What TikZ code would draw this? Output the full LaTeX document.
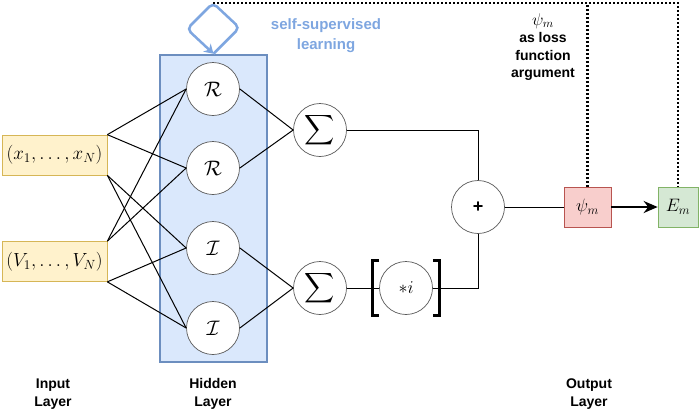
\RequirePackage{fix-cm}
\documentclass[tikz,border=0pt]{standalone}
\usepackage{amsmath,amssymb}
\usepackage{graphicx}
\usepackage{fontspec}
\setsansfont{Liberation Sans}
\usepackage{tikz}
\usetikzlibrary{arrows.meta,positioning,calc}
\definecolor{hiddenfill}{HTML}{DAE8FC}
\definecolor{hiddenedge}{HTML}{6C8EBF}
\definecolor{loopblue}{HTML}{7EA6E0}
\definecolor{inputfill}{HTML}{FFF2CC}
\definecolor{inputedge}{HTML}{D6B656}
\definecolor{psifill}{HTML}{F8CECC}
\definecolor{psiedge}{HTML}{B85450}
\definecolor{energyfill}{HTML}{D5E8D4}
\definecolor{energyedge}{HTML}{82B366}
\newcommand{\bigsum}{\resizebox{!}{22pt}{$\displaystyle\sum$}}
\tikzset{
  net-hidden/.style={draw=hiddenedge, fill=hiddenfill, line width=2.5pt, inner sep=0pt},
  net-input/.style={draw=inputedge, fill=inputfill, line width=0.7pt, inner sep=0pt,
    minimum width=105pt, minimum height=40pt, font=\fontsize{19}{21}\selectfont},
  net-neuron/.style={circle, draw=black!65, fill=white, line width=0.7pt, inner sep=0pt,
    minimum size=53pt, font=\fontsize{21}{23}\selectfont},
  net-psi/.style={draw=psiedge, fill=psifill, line width=0.7pt, inner sep=0pt,
    minimum width=47pt, minimum height=40pt, font=\fontsize{18}{20}\selectfont},
  net-energy/.style={draw=energyedge, fill=energyfill, line width=0.7pt, inner sep=0pt,
    minimum width=40pt, minimum height=40pt, font=\fontsize{18}{20}\selectfont},
  net-edge/.style={draw=black, line width=1pt},
  net-bracket/.style={draw=black, line width=3pt},
  net-arrow/.style={draw=black, line width=2pt, -{Stealth[length=14pt, width=12pt]}},
  net-dotted/.style={draw=black, line width=2.5pt, dash pattern=on 2pt off 2pt},
  net-loop/.style={draw=loopblue, line width=2.5pt, rounded corners=5pt,
    -{Stealth[length=9pt, width=11pt]}},
  net-note/.style={align=center, inner sep=0pt, font=\sffamily\bfseries\fontsize{14}{17.5}\selectfont}
}

\begin{document}
\begin{tikzpicture}[x=1pt, y=-1pt, >=Latex]
  \useasboundingbox (0,0) rectangle (700,413);
  % hidden layer and self-supervised loop
  \node[net-hidden, minimum width=107pt, minimum height=307pt] (hidden) at (213.5,208.5) {};
  \coordinate (loop-top) at (213,3);
  \draw[net-loop] (hidden.north) -- ++(26,-26) -- (loop-top) -- ++(-26,26) -- (hidden.north);

  % inputs
  \node[net-input] (xin) at (54.5,155) {$(x_1,\ldots,x_N)$};
  \node[net-input] (vin) at (54.5,261.5) {$(V_1,\ldots,V_N)$};

  % hidden neurons
  \node[net-neuron] (re1) at (213,89) {$\mathcal{R}$};
  \node[net-neuron] (re2) at (213,168) {$\mathcal{R}$};
  \node[net-neuron] (im1) at (213,248) {$\mathcal{I}$};
  \node[net-neuron] (im2) at (213,328) {$\mathcal{I}$};
  \foreach \src in {xin,vin} {
    \foreach \dst in {re1,re2} \draw[net-edge] (\src.north east) -- (\dst.west);
    \foreach \dst in {im1,im2} \draw[net-edge] (\src.south east) -- (\dst.west);
  }

  % sums and output
  \node[net-neuron] (sumre) at (320,130) {\bigsum};
  \node[net-neuron] (sumim) at (320,288) {\bigsum};
  \node[net-neuron, font=\fontsize{18}{20}\selectfont] (imag) at (406,288) {$*i$};
  \node[net-neuron, font=\sffamily\bfseries\fontsize{18}{20}\selectfont] (plus) at (478,207) {+};
  \node[net-psi] (psi) at (587.5,207) {$\psi_m$};
  \node[net-energy] (energy) at (678,207) {$E_m$};

  \draw[net-edge] (re1.east) -- (sumre.west);
  \draw[net-edge] (re2.east) -- (sumre.west);
  \draw[net-edge] (im1.east) -- (sumim.west);
  \draw[net-edge] (im2.east) -- (sumim.west);
  \draw[net-edge] (sumre.east) -| (plus.north);
  \draw[net-edge] (sumim.east) -- (imag.west);
  \draw[net-edge] (imag.east) -| (plus.south);
  \draw[net-edge] (plus.east) -- (psi.west);
  \draw[net-arrow] (psi.east) -- (energy.west);
  \draw[net-bracket] ($(imag.west)+(0,-27.5)$) -- ++(-7,0) -- ++(0,55) -- ++(7,0);
  \draw[net-bracket] ($(imag.east)+(0,-27.5)$) -- ++(7,0) -- ++(0,55) -- ++(-7,0);

  % loss feedback
  \draw[net-dotted] (loop-top) -| (energy.north);
  \draw[net-dotted] (psi.north) -- (psi.north |- loop-top);

  % notes
  \node[net-note, text=loopblue, font=\sffamily\bfseries\fontsize{15}{20}\selectfont] (selfsup) at (326,36) {self-supervised\\learning};
  \node[net-note] (lossarg) at (543,47) {{\fontsize{17}{17}\selectfont$\psi_m$}\\as loss\\function\\argument};
  \node[net-note] (inlabel) at (53,394) {Input\\Layer};
  \node[net-note] (hidlabel) at (213,394) {Hidden\\Layer};
  \node[net-note] (outlabel) at (589,394) {Output\\Layer};
\end{tikzpicture}
\end{document}
